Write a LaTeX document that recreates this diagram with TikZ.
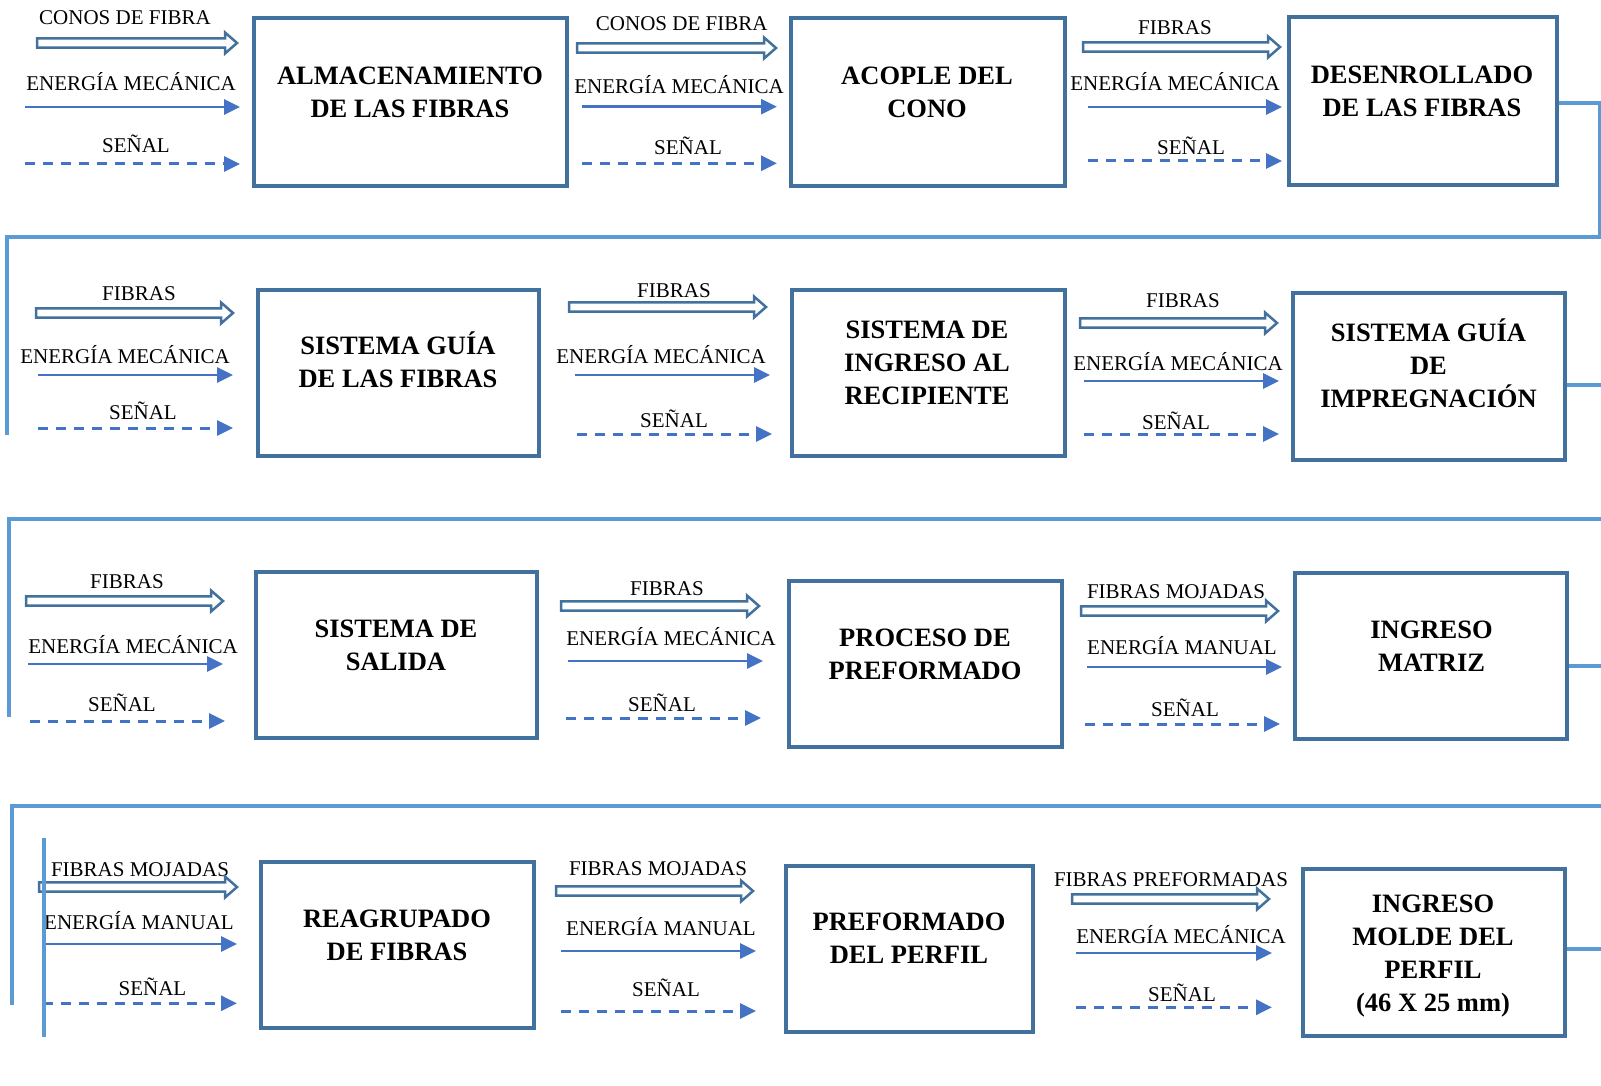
\documentclass[tikz,border=0pt]{standalone}
\usepackage{fontspec}
\setmainfont{Liberation Serif}
\usetikzlibrary{arrows.meta,calc}
\definecolor{boxblue}{HTML}{41719C}
\definecolor{flowblue}{HTML}{4472C4}
\definecolor{linkblue}{HTML}{5B9BD5}
\tikzset{
  procbox/.style={draw=boxblue, line width=3.5pt, inner sep=0pt, rectangle},
  boxtxt/.style={align=center, inner sep=0pt, font=\bfseries\fontsize{26.5}{33}\selectfont},
  lbl/.style={anchor=base, inner sep=0pt, font=\fontsize{21}{24}\selectfont},
  hollowst/.style={draw=boxblue, line width=2.5pt, line join=miter},
  solidst/.style={draw=flowblue, line width=2.8pt, -{Triangle[length=16pt,width=15pt]}},
  dashst/.style={solidst, line width=3pt, dash pattern=on 9.5pt off 8.5pt},
  linkst/.style={draw=linkblue, line width=3.2pt}
}
\newcommand\hollowarr[4]{%
  \coordinate (#1s) at (#2,#4); \coordinate (#1e) at (#3,#4);
  \draw[hollowst] ($(#1s)+(0,-4.6)$) -- ($(#1e)+(-12,-4.6)$) -- ($(#1e)+(-12,-10.5)$) -- (#1e)
     -- ($(#1e)+(-12,10.5)$) -- ($(#1e)+(-12,4.6)$) -- ($(#1s)+(0,4.6)$) -- cycle;}
\newcommand\solidarr[4]{%
  \coordinate (#1s) at (#2,#4); \coordinate (#1e) at (#3,#4);
  \draw[solidst] (#1s) -- (#1e);}
\newcommand\dasharr[4]{%
  \coordinate (#1s) at (#2,#4); \coordinate (#1e) at (#3,#4);
  \draw[dashst] (#1s) -- (#1e);}
\begin{document}
\begin{tikzpicture}[x=1pt,y=-1pt]
\useasboundingbox[fill=white] (0,0) rectangle (1601,1086);

% boxes
\node[procbox, minimum width=313pt, minimum height=168pt] (b1) at (410.5,102) {};
\node[procbox, minimum width=274pt, minimum height=168pt] (b2) at (928,102) {};
\node[procbox, minimum width=268pt, minimum height=168pt] (b3) at (1423,101) {};
\node[procbox, minimum width=281pt, minimum height=166pt] (b4) at (398.5,373) {};
\node[procbox, minimum width=273pt, minimum height=166pt] (b5) at (928.5,373) {};
\node[procbox, minimum width=272pt, minimum height=167pt] (b6) at (1429,376.5) {};
\node[procbox, minimum width=281pt, minimum height=166pt] (b7) at (396.5,655) {};
\node[procbox, minimum width=273pt, minimum height=166pt] (b8) at (925.5,664) {};
\node[procbox, minimum width=272pt, minimum height=166pt] (b9) at (1431,656) {};
\node[procbox, minimum width=273pt, minimum height=166pt] (b10) at (397.5,945) {};
\node[procbox, minimum width=247pt, minimum height=166pt] (b11) at (909.5,949) {};
\node[procbox, minimum width=262pt, minimum height=167pt] (b12) at (1434,952.5) {};

% connectors
\coordinate (r1) at (1600,103); \coordinate (k1b) at (7,237); \coordinate (k1c) at (7,435);
\draw[linkst] (b3.east |- r1) -- (r1) |- (k1b) -- (k1c);
\coordinate (r2) at (1603,385); \coordinate (k2b) at (9,519); \coordinate (k2c) at (9,717);
\draw[linkst] (b6.east |- r2) -- (r2) |- (k2b) -- (k2c);
\coordinate (r3) at (1603,666); \coordinate (k3b) at (12,806); \coordinate (k3c) at (12,1005);
\draw[linkst] (b9.east |- r3) -- (r3) |- (k3b) -- (k3c);
\coordinate (r4) at (1603,949);
\draw[linkst] (b12.east |- r4) -- (r4);

% box texts
\node[boxtxt] (t1) at (410,94) {\strut ALMACENAMIENTO\\\strut DE LAS FIBRAS};
\node[boxtxt] (t2) at (927,94) {\strut ACOPLE DEL\\\strut CONO};
\node[boxtxt] (t3) at (1422,93) {\strut DESENROLLADO\\\strut DE LAS FIBRAS};
\node[boxtxt] (t4) at (398,364) {\strut SISTEMA GUÍA\\\strut DE LAS FIBRAS};
\node[boxtxt] (t5) at (927,365) {\strut SISTEMA DE\\\strut INGRESO AL\\\strut RECIPIENTE};
\node[boxtxt] (t6) at (1428.5,368) {\strut SISTEMA GUÍA\\\strut DE\\\strut IMPREGNACIÓN};
\node[boxtxt] (t7) at (396,647) {\strut SISTEMA DE\\\strut SALIDA};
\node[boxtxt] (t8) at (925,656) {\strut PROCESO DE\\\strut PREFORMADO};
\node[boxtxt] (t9) at (1431.5,648) {\strut INGRESO\\\strut MATRIZ};
\node[boxtxt] (t10) at (397,937) {\strut REAGRUPADO\\\strut DE FIBRAS};
\node[boxtxt] (t11) at (909,940) {\strut PREFORMADO\\\strut DEL PERFIL};
\node[boxtxt] (t12) at (1433,955) {\strut INGRESO\\\strut MOLDE DEL\\\strut PERFIL\\\strut (46 X 25 mm)};

% group A
\node[lbl] (A1) at (125,25) {CONOS DE FIBRA};
\hollowarr{Ah}{37}{237}{43}
\node[lbl] (A2) at (131,90.7) {ENERGÍA MECÁNICA};
\solidarr{As}{25}{240}{107}
\node[lbl] (A3) at (136,153) {SEÑAL};
\dasharr{Ad}{25}{240}{164}
% group B
\node[lbl] (B1) at (681.7,31) {CONOS DE FIBRA};
\hollowarr{Bh}{577}{776}{48}
\node[lbl] (B2) at (679,93.3) {ENERGÍA MECÁNICA};
\solidarr{Bs}{582}{777}{106.7}
\node[lbl] (B3) at (688,155) {SEÑAL};
\dasharr{Bd}{582}{777}{163.3}
% group C
\node[lbl] (C1) at (1175,34.5) {FIBRAS};
\hollowarr{Ch}{1083}{1280}{47}
\node[lbl] (C2) at (1175,90.5) {ENERGÍA MECÁNICA};
\solidarr{Cs}{1088}{1282}{107}
\node[lbl] (C3) at (1191,154.5) {SEÑAL};
\dasharr{Cd}{1088}{1282}{161}
% group D
\node[lbl] (D1) at (139,300.5) {FIBRAS};
\hollowarr{Dh}{36}{233}{313}
\node[lbl] (D2) at (125,363.5) {ENERGÍA MECÁNICA};
\solidarr{Ds}{38}{233}{375}
\node[lbl] (D3) at (143,419.5) {SEÑAL};
\dasharr{Dd}{38}{233}{428}
% group E
\node[lbl] (E1) at (674,297.5) {FIBRAS};
\hollowarr{Eh}{569}{766}{307}
\node[lbl] (E2) at (661,363.5) {ENERGÍA MECÁNICA};
\solidarr{Es}{575}{770}{375}
\node[lbl] (E3) at (674,427.5) {SEÑAL};
\dasharr{Ed}{577}{772}{434}
% group F
\node[lbl] (F1) at (1183,307.5) {FIBRAS};
\hollowarr{Fh}{1080}{1277}{323}
\node[lbl] (F2) at (1178,370.5) {ENERGÍA MECÁNICA};
\solidarr{Fs}{1084}{1279}{381}
\node[lbl] (F3) at (1176,429.5) {SEÑAL};
\dasharr{Fd}{1084}{1279}{434}
% group G
\node[lbl] (G1) at (127,588.5) {FIBRAS};
\hollowarr{Gh}{26}{223}{601}
\node[lbl] (G2) at (133,653.5) {ENERGÍA MECÁNICA};
\solidarr{Gs}{28}{223}{664}
\node[lbl] (G3) at (122,711.5) {SEÑAL};
\dasharr{Gd}{30}{225}{721}
% group H
\node[lbl] (H1) at (667,595.5) {FIBRAS};
\hollowarr{Hh}{561}{759}{606}
\node[lbl] (H2) at (671,645.5) {ENERGÍA MECÁNICA};
\solidarr{Hs}{568}{763}{661}
\node[lbl] (H3) at (662,711.5) {SEÑAL};
\dasharr{Hd}{566}{761}{718}
% group I
\node[lbl] (I1) at (1176,598.5) {FIBRAS MOJADAS};
\hollowarr{Ih}{1081}{1278}{611}
\node[lbl] (I2) at (1182,654.5) {ENERGÍA MANUAL};
\solidarr{Is}{1087}{1282}{667}
\node[lbl] (I3) at (1185,716.5) {SEÑAL};
\dasharr{Id}{1085}{1280}{724}
% group J
\node[lbl] (J1) at (140,876) {FIBRAS MOJADAS};
\hollowarr{Jh}{39}{237}{887}
\node[lbl] (J2) at (139,929.3) {ENERGÍA MANUAL};
\solidarr{Js}{43}{237}{944}
\node[lbl] (J3) at (152.5,995) {SEÑAL};
\dasharr{Jd}{43}{237}{1003.3}
% group K
\node[lbl] (K1) at (658,875.5) {FIBRAS MOJADAS};
\hollowarr{Kh}{556}{753}{891}
\node[lbl] (K2) at (661,935.5) {ENERGÍA MANUAL};
\solidarr{Ks}{561}{756}{951}
\node[lbl] (K3) at (666,996.5) {SEÑAL};
\dasharr{Kd}{561}{756}{1011}
% group L
\node[lbl] (L1) at (1171,886.7) {FIBRAS PREFORMADAS};
\hollowarr{Lh}{1072}{1269}{899}
\node[lbl] (L2) at (1181,943.3) {ENERGÍA MECÁNICA};
\solidarr{Ls}{1076}{1272}{953}
\node[lbl] (L3) at (1182,1001.7) {SEÑAL};
\dasharr{Ld}{1076}{1272}{1007.3}

% extra vertical line, bottom row
\coordinate (v1) at (44,838); \coordinate (v2) at (44,1037);
\draw[linkst] (v1) -- (v2);
\end{tikzpicture}
\end{document}
